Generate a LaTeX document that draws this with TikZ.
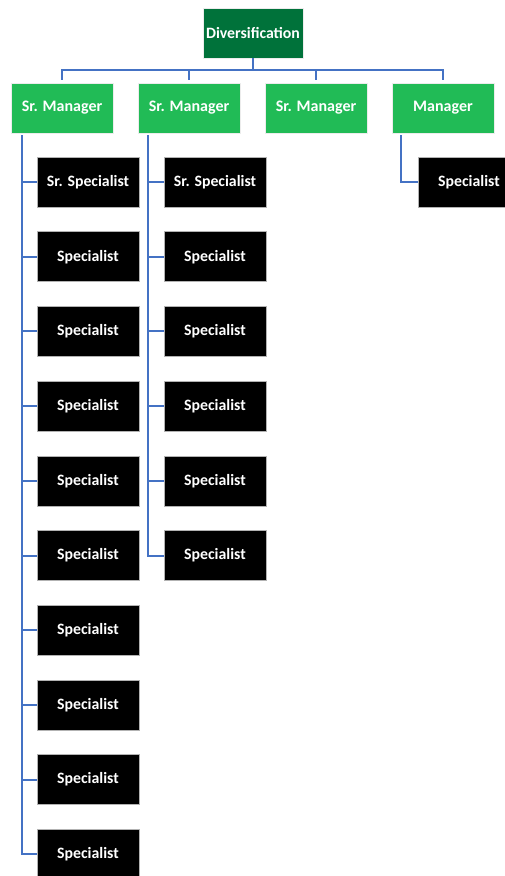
\documentclass[tikz,border=0pt]{standalone}
\usepackage{fontspec}
\setmainfont{Carlito}
\definecolor{rootgreen}{RGB}{0,114,58}
\definecolor{mgrgreen}{RGB}{33,187,86}
\definecolor{linkblue}{RGB}{68,114,196}
\tikzset{
  box/.style={minimum width=102pt,minimum height=50pt,inner sep=0pt,draw=white!85!gray,line width=0.6pt,text=white,font=\bfseries},
  rootbox/.style={box,fill=rootgreen,minimum width=100pt,font=\bfseries\fontsize{15.8}{18}\selectfont},
  mgrbox/.style={box,fill=mgrgreen,font=\bfseries\fontsize{16}{18}\selectfont},
  specbox/.style={box,fill=black,draw=gray!60,font=\bfseries\fontsize{15.8}{18}\selectfont},
  link/.style={draw=linkblue,line width=2pt}
}
\begin{document}
\begin{tikzpicture}[x=1pt,y=-1pt]
\useasboundingbox (0,0) rectangle (505,876);
\node[rootbox] (root) at (253,33) {Diversification};
\node[mgrbox] (m1) at (62,108) {Sr. Manager};
\node[mgrbox] (m2) at (189,108) {Sr. Manager};
\node[mgrbox] (m3) at (316,108) {Sr. Manager};
\node[mgrbox] (m4) at (443,108) {Manager};
% bus
\coordinate (bus) at (253,70);
\draw[link] (root.south) -- (bus);
\foreach \m in {m1,m2,m3,m4}{
  \draw[link] (bus) -| ([yshift=3pt]\m.north);
}
% column 1
\node[specbox] (a1) at (88,182) {Sr. Specialist};
\foreach \i/\y in {2/256.7,3/331.4,4/406.1,5/480.8,6/555.5,7/630.2,8/704.9,9/779.6,10/854.3}{
  \node[specbox] (a\i) at (88,\y) {Specialist};
}
\coordinate (c1) at (22,135);
\foreach \i in {1,...,10}{
  \draw[link] (c1) |- (a\i.west);
}
% column 2
\node[specbox] (b1) at (215,182) {Sr. Specialist};
\foreach \i/\y in {2/256.7,3/331.4,4/406.1,5/480.8,6/555.5}{
  \node[specbox] (b\i) at (215,\y) {Specialist};
}
\coordinate (c2) at (148,135);
\foreach \i in {1,...,6}{
  \draw[link] (c2) |- (b\i.west);
}
% column 4
\node[specbox] (d1) at (469,182) {Specialist};
\coordinate (c4) at (401,135);
\draw[link] (c4) |- (d1.west);
\end{tikzpicture}
\end{document}
